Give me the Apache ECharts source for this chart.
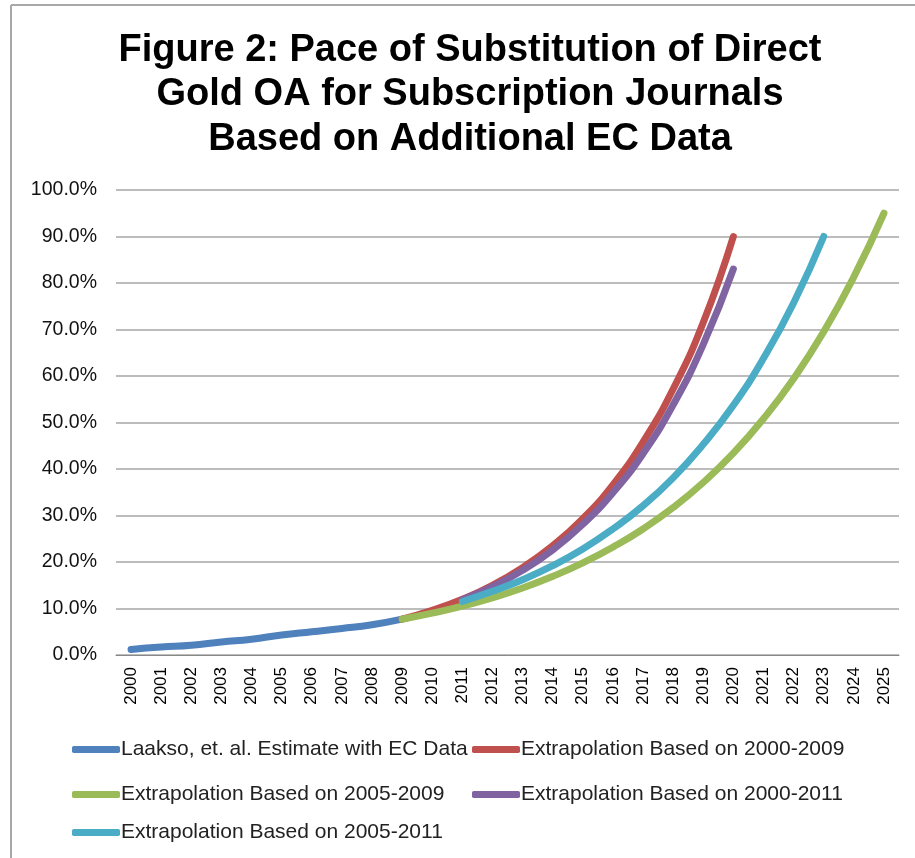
<!DOCTYPE html>
<html><head><meta charset="utf-8">
<script src="https://cdn.jsdelivr.net/npm/echarts@6/dist/echarts.min.js"></script>
<style>html,body{margin:0;padding:0;background:#fff}#c{width:915px;height:858px}</style>
</head><body><div id="c"></div>
<script>
const years = ['2000','2001','2002','2003','2004','2005','2006','2007','2008','2009','2010','2011','2012','2013','2014','2015','2016','2017','2018','2019','2020','2021','2022','2023','2024','2025'];
const yTicks = [0,10,20,30,40,50,60,70,80,90,100];
const laakso = [1.2,1.7,2.1,2.8,3.4,4.3,5.0,5.7,6.5,7.7];
const ext0009 = [null,null,null,null,null,null,null,null,null,7.7,9.6,12.0,15.0,18.8,23.5,29.3,36.6,45.8,57.2,71.5,90.0];
const ext0509 = [null,null,null,null,null,null,null,null,null,7.7,9.0,10.5,12.3,14.4,16.9,19.8,23.2,27.1,31.7,37.1,43.4,50.8,59.4,69.5,81.3,95.0];
const ext0011 = [null,null,null,null,null,null,null,null,null,null,null,11.9,14.7,18.2,22.6,28.1,34.9,43.3,53.8,66.8,83.0];
const ext0511 = [null,null,null,null,null,null,null,null,null,null,null,11.5,13.7,16.2,19.2,22.8,27.1,32.1,38.1,45.3,53.7,63.8,75.7,90.0];
const names = ['Laakso, et. al. Estimate with EC Data','Extrapolation Based on 2000-2009','Extrapolation Based on 2005-2009','Extrapolation Based on 2000-2011','Extrapolation Based on 2005-2011'];
const colors = ['#4F81BD','#C0504D','#9BBB59','#8064A2','#4BACC6'];
const datas = [laakso, ext0009, ext0509, ext0011, ext0511];

const chart = echarts.init(document.getElementById('c'));
const legendPos = [[72,739],[472,739],[72,784],[472,784],[72,822]];
const legends = names.map((n,i)=>({
  data:[n], left:legendPos[i][0], top:legendPos[i][1], icon:'roundRect', itemWidth:48, itemHeight:7, itemGap:0, padding:0,
  textStyle:{fontFamily:'Liberation Sans, Arial', fontSize:21, color:'#222', padding:[0,0,0,-4]}, selectedMode:false
}));
chart.setOption({
  animation:false,
  color: colors,
  title:{text:'Figure 2: Pace of Substitution of Direct\nGold OA for Subscription Journals\nBased on Additional EC Data', left:470, top:28,
    textAlign:'center', padding:0,
    textStyle:{fontFamily:'Liberation Sans, Arial', fontWeight:'bold', fontSize:38, lineHeight:44.5, color:'#000'}},
  legend: legends,
  graphic:[
    {type:'line', shape:{x1:11,y1:5,x2:915,y2:5}, style:{stroke:'#a8a8a8', lineWidth:2}, silent:true},
    {type:'line', shape:{x1:11,y1:5,x2:11,y2:858}, style:{stroke:'#a8a8a8', lineWidth:2}, silent:true}
  ],
  grid:{left:116, right:16, top:190, bottom:203},
  xAxis:{type:'category', data:years, boundaryGap:true,
    axisLine:{lineStyle:{color:'#888'}}, axisTick:{show:false},
    axisLabel:{rotate:90, fontFamily:'Liberation Sans, Arial', fontSize:17, color:'#000', margin:12}},
  yAxis:{type:'value', min:yTicks[0], max:yTicks[yTicks.length-1], interval:10,
    axisLine:{show:false}, axisTick:{show:false},
    splitLine:{lineStyle:{color:'#a6a6a6', width:1.5}},
    axisLabel:{formatter:v=>v.toFixed(1)+'%', fontFamily:'Liberation Sans, Arial', fontSize:19.5, color:'#111', margin:19}},
  series: datas.map((d,i)=>({name:names[i], type:'line', data:d, smooth:true, showSymbol:false, symbol:'none',
    lineStyle:{width:7, cap:'round', color:colors[i]}, itemStyle:{color:colors[i]}, z:2+i}))
});
</script></body></html>
